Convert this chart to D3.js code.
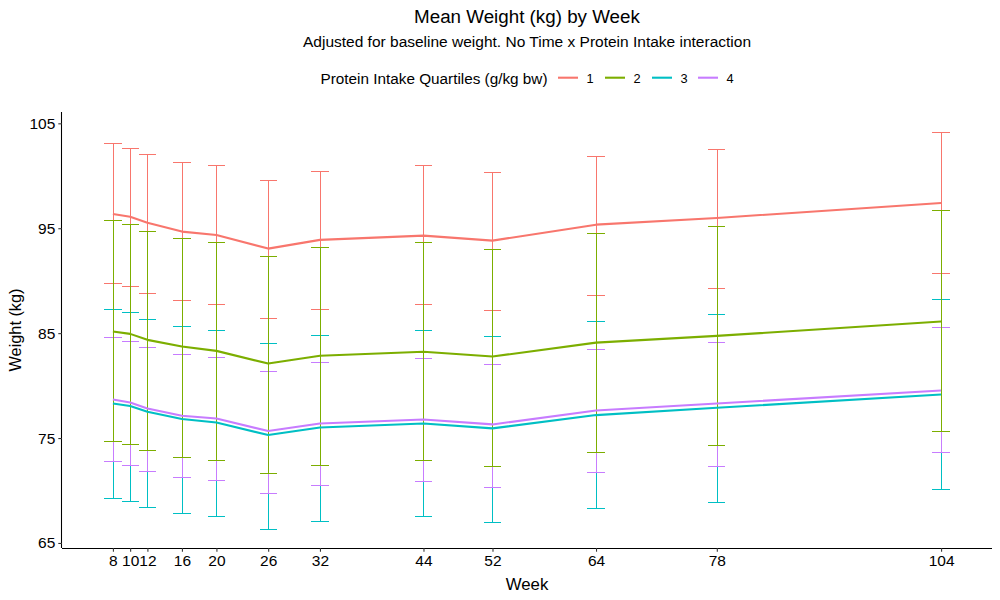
<!DOCTYPE html>
<html><head><meta charset="utf-8">
<script src="https://cdn.jsdelivr.net/npm/d3@7"></script>
<style>body{margin:0;background:#fff}svg{font-family:"Liberation Sans",Arial,sans-serif}</style>
</head><body><svg id="c" width="1000" height="600"></svg>
<script>
const weeks = [8,10,12,16,20,26,32,44,52,64,78,104];
const groups = ["1","2","3","4"];
const colors = ["#F8766D","#7CAE00","#00BFC4","#C77CFF"];
const mean1 = [96.36,96.1,95.53,94.68,94.36,93.06,93.89,94.3,93.82,95.34,95.98,97.41];
const lo1   = [89.76,89.48,88.81,88.14,87.76,86.43,87.29,87.76,87.19,88.62,89.29,90.71];
const hi1   = [103.1,102.68,102.05,101.29,101.0,99.57,100.43,101.0,100.33,101.86,102.52,104.14];
const mean2 = [85.15,84.93,84.36,83.73,83.31,82.1,82.84,83.22,82.77,84.1,84.74,86.11];
const lo2   = [74.71,74.43,73.86,73.19,72.9,71.67,72.43,72.9,72.33,73.67,74.33,75.67];
const hi2   = [95.76,95.38,94.71,94.08,93.67,92.33,93.19,93.67,93.0,94.52,95.19,96.71];
const mean3 = [78.3,78.05,77.5,76.81,76.49,75.29,76.01,76.39,75.92,77.19,77.89,79.15];
const lo3   = [69.29,69.0,68.43,67.86,67.57,66.33,67.1,67.57,67.0,68.33,68.9,70.14];
const hi3   = [87.29,87.0,86.33,85.67,85.31,84.05,84.81,85.31,84.71,86.14,86.81,88.24];
const mean4 = [78.68,78.39,77.82,77.12,76.87,75.67,76.39,76.77,76.3,77.63,78.3,79.53];
const lo4   = [72.81,72.43,71.86,71.29,71.0,69.76,70.52,70.9,70.33,71.76,72.33,73.67];
const hi4   = [84.62,84.24,83.67,83.0,82.71,81.38,82.24,82.62,82.05,83.48,84.14,85.57];
const yTicks = [65,75,85,95,105];

const means=[mean1,mean2,mean3,mean4], los=[lo1,lo2,lo3,lo4], his=[hi1,hi2,hi3,hi4];
const svg=d3.select("#c");
const L=62,R=992,T=112,B=548;
const x=d3.scaleLinear().domain([2.1,109.9]).range([L,R]);
const y=d3.scaleLinear().domain([64.52,106.08]).range([B,T]);
const capW=1; // weeks half-width
const px=v=>Math.round(v)+0.5;

// error bars (drawing order as in reference: group 2 on top)
[0,2,3,1].forEach(gi=>{
  const gg=svg.append("g").attr("stroke",colors[gi]).attr("stroke-width",1).attr("fill","none").attr("shape-rendering","crispEdges");
  weeks.forEach((w,i)=>{
    gg.append("line").attr("x1",px(x(w))).attr("x2",px(x(w))).attr("y1",px(y(los[gi][i]))).attr("y2",px(y(his[gi][i])));
    gg.append("line").attr("x1",x(w-capW)).attr("x2",x(w+capW)).attr("y1",px(y(los[gi][i]))).attr("y2",px(y(los[gi][i])));
    gg.append("line").attr("x1",x(w-capW)).attr("x2",x(w+capW)).attr("y1",px(y(his[gi][i]))).attr("y2",px(y(his[gi][i])));
  });
});
// lines
const line=d3.line().x((d,i)=>x(weeks[i])).y(d=>y(d));
groups.forEach((g,gi)=>{
  svg.append("path").datum(means[gi]).attr("d",line).attr("fill","none")
    .attr("stroke",colors[gi]).attr("stroke-width",2.1).attr("stroke-linejoin","round");
});

// axes
const xa=svg.append("g").attr("transform",`translate(0,${B})`)
  .call(d3.axisBottom(x).tickValues(weeks).tickFormat(d3.format("d")).tickSizeOuter(0).tickSize(3.7).tickPadding(3));
xa.select(".domain").attr("d",`M${L},0.5H${R}`).attr("stroke","#000").attr("stroke-width",1.07);
xa.selectAll(".tick line").attr("stroke","#333").attr("stroke-width",1.07);
xa.selectAll(".tick text").attr("font-size",15.5).attr("fill","#000").attr("font-family","Liberation Sans, Arial");
const ya=svg.append("g").attr("transform",`translate(${L},0)`)
  .call(d3.axisLeft(y).tickValues(yTicks).tickFormat(d3.format("d")).tickSizeOuter(0).tickSize(3.7).tickPadding(3));
ya.select(".domain").attr("d",`M-0.5,${B}V${T}`).attr("stroke","#000").attr("stroke-width",1.07);
ya.selectAll(".tick line").attr("stroke","#333").attr("stroke-width",1.07);
ya.selectAll(".tick text").attr("font-size",15.5).attr("fill","#000").attr("font-family","Liberation Sans, Arial");

// titles
const cx=(L+R)/2;
svg.append("text").attr("x",cx).attr("y",22.5).attr("text-anchor","middle").attr("font-size",18.8).text("Mean Weight (kg) by Week");
svg.append("text").attr("x",cx).attr("y",47).attr("text-anchor","middle").attr("font-size",15.5).text("Adjusted for baseline weight. No Time x Protein Intake interaction");
svg.append("text").attr("x",cx).attr("y",590).attr("text-anchor","middle").attr("font-size",16.8).text("Week");
svg.append("text").attr("transform",`translate(21,${(T+B)/2}) rotate(-90)`).attr("text-anchor","middle").attr("font-size",16.3).text("Weight (kg)");

// legend
const lg=svg.append("g");
lg.append("text").attr("x",320.5).attr("y",83.5).attr("font-size",15.3).text("Protein Intake Quartiles (g/kg bw)");
const keyX=[558,605,652,698];
groups.forEach((g,gi)=>{
  lg.append("line").attr("x1",keyX[gi]).attr("x2",keyX[gi]+20).attr("y1",77.7).attr("y2",77.7).attr("stroke",colors[gi]).attr("stroke-width",2.1);
  lg.append("text").attr("x",keyX[gi]+32).attr("y",83.3).attr("font-size",12.8).attr("text-anchor","middle").text(g);
});
</script></body></html>
